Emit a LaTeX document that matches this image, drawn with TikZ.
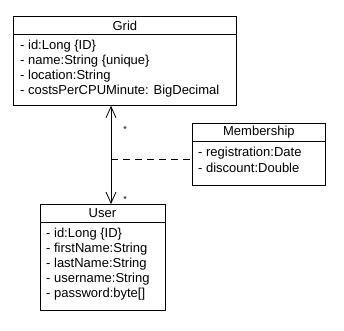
\documentclass[tikz,border=0pt]{standalone}
\usepackage{fontspec}
\setmainfont{Liberation Sans}
\usepackage{tikz}
\usetikzlibrary{arrows.meta,positioning}

\begin{document}
\begin{tikzpicture}[
  x=1pt, y=-1pt,
  classpart/.style={draw, line width=0.8pt, inner sep=0pt, anchor=north west},
  headtext/.style={font=\fontsize{13}{15}\selectfont},
  attr/.style={anchor=base west, inner sep=0pt, font=\fontsize{13}{15}\selectfont},
  mult/.style={inner sep=0pt, font=\fontsize{9}{9}\selectfont},
  assoc/.style={{Straight Barb[length=11pt,width=10pt]}-{Straight Barb[length=11pt,width=10pt]}, line width=0.8pt},
  linkline/.style={dash pattern=on 7pt off 5pt, line width=0.8pt}
]
\useasboundingbox (0,0) rectangle (344,330);

% Grid class
\node[classpart, headtext, minimum width=223pt, minimum height=18pt] (gridhead) at (13,16) {Grid};
\node[classpart, minimum width=223pt, minimum height=71pt] (gridbody) at (13,34) {};
\foreach \txt [count=\i from 0] in {- id:Long \{ID\}, - name:String \{unique\}, - location:String, - costsPerCPUMinute: BigDecimal}
  \node[attr] (gridattr\i) at (20,49.5+15*\i) {\txt};

% Membership class
\node[classpart, headtext, minimum width=133pt, minimum height=18pt] (memhead) at (192,123) {Membership};
\node[classpart, minimum width=133pt, minimum height=44pt] (membody) at (192,141) {};
\foreach \txt [count=\i from 0] in {- registration:Date, - discount:Double}
  \node[attr] (memattr\i) at (198,156.5+15.5*\i) {\txt};

% User class
\node[classpart, headtext, minimum width=125pt, minimum height=18pt] (userhead) at (39.5,204) {User};
\node[classpart, minimum width=125pt, minimum height=88pt] (userbody) at (39.5,222) {};
\foreach \txt [count=\i from 0] in {- id:Long \{ID\}, - firstName:String, - lastName:String, - username:String, - password:byte[]}
  \node[attr] (userattr\i) at (46,237+15*\i) {\txt};

% association with class link
\draw[assoc] (gridbody.south -| 111,0) -- (userhead.north -| 111,0);
\coordinate (assocmid) at (111,159);
\draw[linkline] (assocmid) -- (assocmid -| membody.west);
\node[mult] (multgrid) at (125,129) {*};
\node[mult] (multuser) at (125,199) {*};

\end{tikzpicture}
\end{document}
